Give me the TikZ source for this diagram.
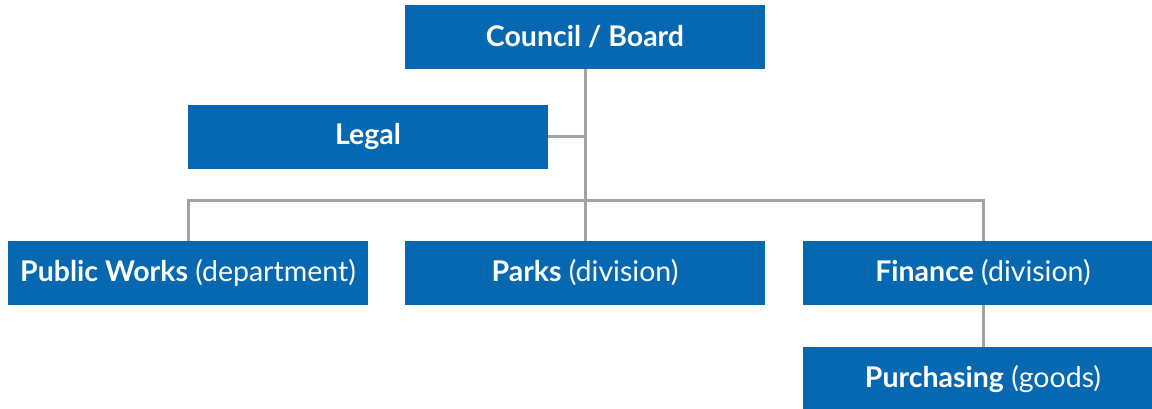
\documentclass[tikz,border=0pt]{standalone}
\usepackage{fontspec}
\setmainfont{Lato}
\definecolor{unitblue}{HTML}{0568B0}
\definecolor{linkgray}{HTML}{A3A3A3}
\tikzset{
  unit/.style={fill=unitblue,text=white,minimum width=360pt,minimum height=64pt,
    inner sep=0pt,font=\fontsize{28.5}{32}\selectfont},
  link/.style={draw=linkgray,line width=3pt}
}
\begin{document}
\begin{tikzpicture}[x=1pt,y=-1pt]
	    \useasboundingbox (0,0) rectangle (1152,408);
	    \clip (0,0) rectangle (1152,408);
	    \node[unit] (council) at (585,36.5) {\textbf{Council / Board}};
	    \node[unit] (legal) at (368,136.5) {\textbf{Legal}};
	    \node[unit] (pubworks) at (188,273) {\textbf{Public Works} (department)};
	    \node[unit] (parks) at (585,273) {\textbf{Parks} (division)};
	    \node[unit] (finance) at (983,273) {\textbf{Finance} (division)};
	    \node[unit] (purchasing) at (983,379) {\textbf{Purchasing} (goods)};
	    \coordinate (bus) at (585,200);
	    \draw[link](council.south)--(parks.north);
	    \draw[link](legal.east)--(legal.east -| council.south);
	    \draw[link](pubworks.north)--(pubworks.north |- bus)--(finance.north |- bus)--(finance.north);
	    \draw[link](finance.south)--(purchasing.north);
\end{tikzpicture}
\end{document}
